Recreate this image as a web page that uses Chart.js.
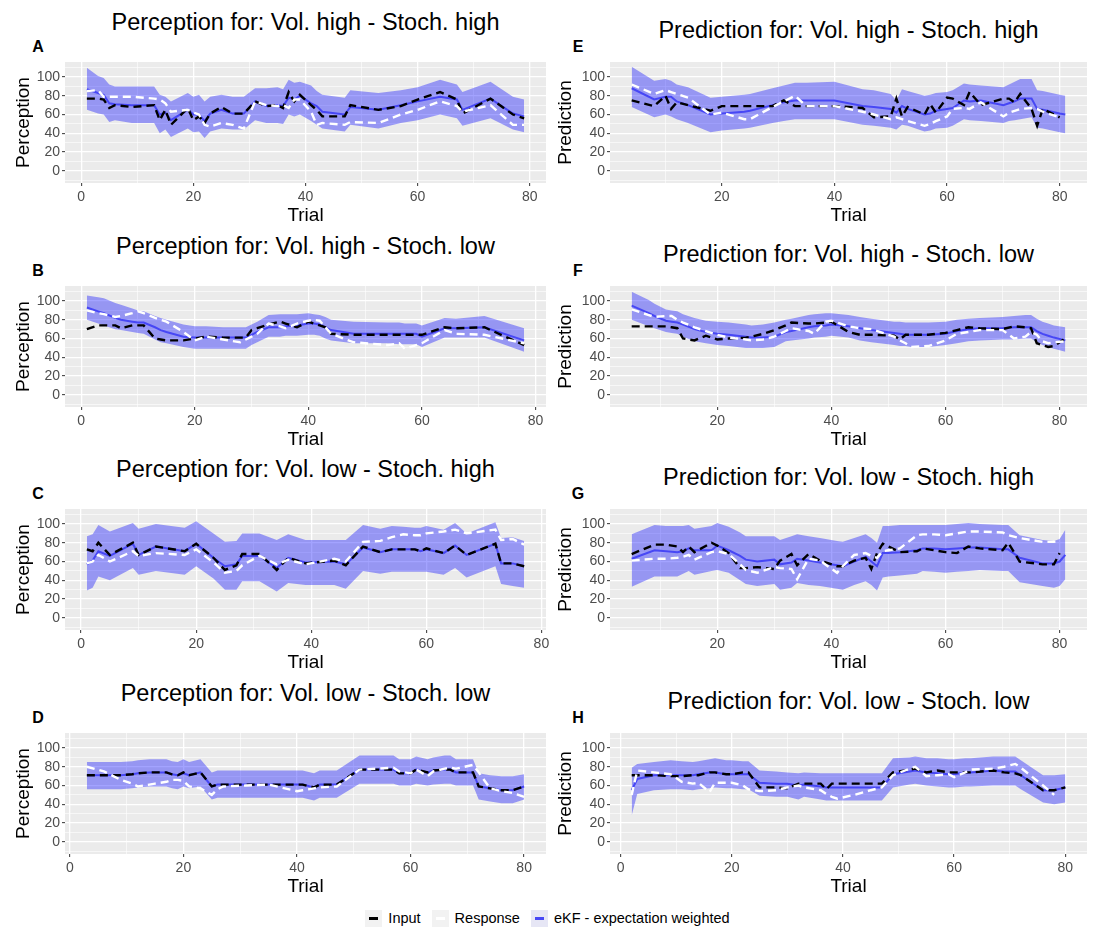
<!DOCTYPE html>
<html>
<head>
    <meta charset="utf-8">
    <title>eKF - perception and prediction</title>
    <script src="https://cdn.jsdelivr.net/npm/chart.js@4.4.1/dist/chart.umd.min.js"></script>
    <style>
        body { margin: 0; background: #fff; font-family: "Liberation Sans", Arial, sans-serif; }
        #figure { position: relative; width: 1094px; height: 931px; overflow: hidden; }
        .ptitle { position: absolute; font-size: 23.5px; color: #000; white-space: nowrap; transform: translate(-50%, -50%); }
        .tag { position: absolute; font-size: 16px; font-weight: bold; color: #000; transform: translate(-50%, -50%); }
        .plot { position: absolute; }
        #legend { position: absolute; left: 0; width: 1106px; top: 909px; height: 18px; display: flex; justify-content: center; align-items: center; font-size: 14.5px; color: #000; }
        #legend .key { width: 17px; height: 17px; background: #f2f2f2; position: relative; margin-right: 6px; }
        #legend .key i { position: absolute; left: 4px; top: 7px; width: 9px; height: 3px; }
        #legend .item { display: flex; align-items: center; margin-right: 11px; }
    </style>
</head>
<body>
<div id="figure">
    <div id="legend">
        <div class="item"><div class="key"><i style="background:#000"></i></div>Input</div>
        <div class="item"><div class="key"><i style="background:#fff"></i></div>Response</div>
        <div class="item"><div class="key" style="background:#e6e6f5"><i style="background:#4747f5"></i></div>eKF - expectation weighted</div>
    </div>
</div>
<script>
// Perception, Vol. high - Stoch. high
var trialsA = [1,3,4,5,6,9,13,14,15,16,19,20,21,22,23,25,27,29,31,33,35,36,37,38,39,41,42,43,47,48,53,57,60,64,67,68,73,77,79];
var inputA = [77,77,76,67,70,68,70,54,65,49,67,54,58,51,61,68,61,61,74,69,70,67,84,74,81,70,65,58,58,70,65,69,76,84,76,61,77,60,56];
var responseA = [85,86,79,79,79,79,77,76,72,63,65,62,60,49,47,51,49,45,74,70,69,70,67,76,76,63,49,51,49,52,51,60,65,74,69,63,70,49,49];
var ekfA = [87,83,81,72,71,70,70,60,62,54,65,60,60,53,61,65,61,61,74,69,70,69,78,76,80,72,69,63,60,68,65,70,74,79,76,65,77,61,58];
var upperA = [110,101,99,92,90,90,90,81,79,74,83,79,81,74,79,81,79,79,88,88,89,87,97,94,95,91,85,81,78,86,83,86,89,97,92,84,95,79,76];
var lowerA = [65,61,60,52,54,51,51,40,44,36,45,41,42,35,42,45,44,44,54,51,51,50,60,58,60,53,49,45,42,49,45,51,54,60,56,48,56,44,41];

// Perception, Vol. high - Stoch. low
var trialsB = [1,3,4,6,7,9,10,11,13,14,15,18,20,22,25,28,29,30,31,33,35,36,38,40,41,42,43,44,48,54,56,57,59,60,64,66,71,78];
var inputB = [70,74,74,74,71,74,74,74,60,59,58,58,60,62,61,61,61,69,71,75,78,76,72,78,76,74,72,65,64,64,64,64,64,64,72,71,72,53];
var responseB = [90,87,86,83,84,87,89,87,82,80,78,67,58,62,59,56,59,62,65,76,73,71,76,79,80,79,72,65,56,53,55,49,53,55,69,65,64,55];
var ekfB = [93,89,87,82,80,78,77,77,72,69,67,62,61,61,61,61,61,64,67,72,72,73,74,76,76,75,72,69,65,65,65,65,65,62,71,71,72,58];
var upperB = [106,104,103,98,96,92,90,89,84,82,80,75,73,73,72,72,72,75,78,85,86,86,86,87,86,85,83,80,78,77,77,76,76,74,82,81,84,71];
var lowerB = [80,76,74,70,69,67,66,65,59,56,55,51,49,49,49,49,49,53,56,62,62,63,63,64,64,63,60,58,55,55,54,54,54,51,61,61,61,46];

// Perception, Vol. low - Stoch. high
var trialsC = [1,2,3,5,9,10,13,18,20,23,25,27,28,31,34,36,39,44,46,49,52,54,56,58,59,60,63,65,67,72,73,75,77];
var inputC = [73,71,80,67,80,67,76,71,79,64,51,56,68,68,51,64,58,61,56,76,70,73,73,73,71,74,69,77,67,79,58,58,55];
var responseC = [58,60,67,60,71,66,69,67,73,59,48,50,56,66,57,62,57,63,60,81,82,86,89,88,88,90,92,94,90,94,83,84,78];
var ekfC = [57,61,71,66,79,67,76,71,79,64,55,57,66,66,53,64,59,60,57,75,70,73,73,73,71,73,69,77,67,79,58,58,55];
var upperC = [87,89,99,92,101,95,100,96,103,90,81,82,90,90,83,89,83,83,83,99,95,98,97,96,96,98,94,101,90,102,85,86,82];
var lowerC = [29,32,44,40,53,46,50,46,55,42,30,30,39,39,28,37,35,35,31,50,47,49,49,49,49,49,46,53,43,55,36,34,32];

// Perception, Vol. low - Stoch. low
var trialsD = [3,6,9,11,12,14,15,17,18,19,20,21,23,25,26,27,31,35,40,41,43,44,47,51,57,58,60,61,63,64,66,67,68,71,72,74,76,78,80];
var inputD = [71,71,71,72,73,74,74,74,72,71,74,71,74,59,61,61,61,61,61,61,58,61,61,77,77,73,73,77,74,76,77,77,74,74,59,57,55,55,59];
var responseD = [80,75,66,62,59,61,62,64,66,66,65,59,57,50,56,59,60,61,54,55,57,58,59,77,79,75,73,77,70,75,78,79,78,82,74,57,54,52,48];
var ekfD = [71,71,71,72,73,74,74,74,72,71,73,71,74,59,61,61,61,61,61,61,58,61,61,77,77,73,73,77,74,76,77,77,74,74,59,57,55,55,59];
var upperD = [85,85,85,86,87,88,88,88,86,85,88,85,88,74,76,76,76,76,76,76,73,76,76,92,92,88,88,91,88,90,92,92,88,88,73,71,70,70,72];
var lowerD = [56,56,56,57,58,59,59,59,57,56,59,57,59,45,47,47,47,47,47,47,44,47,47,62,62,60,60,62,60,61,62,62,60,60,45,43,41,41,45];

// Prediction, Vol. high - Stoch. high
var trialsE = [4,8,10,11,12,14,18,20,24,25,29,31,33,35,40,45,47,50,51,52,53,56,57,58,60,61,63,64,66,70,71,72,73,75,76,77,80,81];
var inputE = [75,69,80,66,73,70,64,69,69,69,69,75,69,69,69,67,57,58,77,58,68,60,71,62,78,77,70,84,70,77,77,73,82,66,48,66,57,null];
var responseE = [92,82,86,84,82,78,60,62,55,55,68,74,80,69,69,63,60,55,57,55,53,48,50,53,58,66,67,66,73,58,62,64,66,67,66,63,57,null];
var ekfE = [88,76,79,79,74,70,60,61,63,64,70,73,75,75,75,69,68,66,62,69,66,60,61,64,66,67,75,74,75,70,72,74,77,77,66,65,61,60];
var upperE = [111,96,98,96,92,89,78,79,81,82,88,91,94,94,95,87,86,82,75,87,85,80,81,83,84,86,93,92,91,89,92,95,98,98,86,85,81,80];
var lowerE = [68,57,60,58,55,51,41,43,45,46,51,53,55,55,55,49,48,46,44,49,48,42,43,45,46,48,55,54,53,51,53,54,55,57,46,45,41,40];

// Prediction, Vol. high - Stoch. low
var trialsF = [5,8,9,11,12,13,14,16,18,20,22,25,26,28,30,32,33,36,37,39,40,43,45,47,51,52,53,54,57,60,62,64,66,70,72,74,75,76,77,78,79,81];
var inputF = [73,73,73,73,72,71,60,58,63,59,60,61,62,65,69,74,77,76,76,77,78,67,64,64,63,59,64,64,64,66,69,72,71,70,73,72,71,55,53,51,52,60];
var responseF = [91,85,83,84,84,80,77,72,68,64,61,59,58,59,62,68,71,68,65,78,79,73,71,70,62,58,55,51,52,58,65,67,69,69,60,62,67,64,57,55,56,57];
var ekfF = [95,87,84,79,78,77,75,70,67,65,64,62,61,61,62,67,68,72,73,74,75,73,71,69,66,65,64,64,64,65,68,70,71,71,72,72,72,68,65,63,61,58];
var upperF = [110,101,97,91,90,89,86,82,79,78,77,75,74,75,77,80,81,85,86,87,87,85,83,81,78,78,77,77,77,78,80,81,82,83,84,85,85,81,78,76,74,72];
var lowerF = [80,73,71,67,66,65,62,57,55,53,52,50,50,50,51,57,58,60,61,62,63,61,58,56,53,52,52,51,51,53,55,57,58,59,59,60,60,56,53,51,49,46];

// Prediction, Vol. low - Stoch. high
var trialsG = [5,9,11,13,14,15,16,19,20,22,24,25,27,30,31,33,34,36,38,41,42,44,46,47,48,49,50,52,55,56,58,60,62,64,66,70,71,73,77,79,80,81];
var inputG = [68,78,78,76,70,76,70,80,77,69,53,53,54,52,61,68,56,68,61,55,55,61,64,52,69,79,76,70,71,74,72,70,69,76,74,72,80,60,57,57,69,null];
var responseG = [61,63,63,64,65,67,62,70,71,68,57,51,48,54,53,52,41,63,61,48,55,67,69,66,64,71,72,74,88,89,89,88,90,92,92,91,88,85,81,81,82,null];
var ekfG = [63,72,71,70,71,74,72,72,77,72,66,62,60,62,57,59,63,61,59,56,55,60,65,60,55,69,69,70,72,74,74,73,74,75,75,73,73,64,58,58,60,67];
var upperG = [89,99,98,98,98,99,95,98,101,97,91,87,87,87,83,87,89,87,85,82,81,85,89,85,80,98,98,99,99,99,99,99,100,101,100,99,99,88,83,82,84,94];
var lowerG = [33,44,44,44,47,50,46,50,51,48,40,36,34,36,30,32,37,35,34,31,30,35,39,35,29,43,44,45,47,50,49,48,49,50,51,50,50,38,34,32,34,41];

// Prediction, Vol. low - Stoch. low
var trialsH = [2,3,6,9,11,13,14,16,17,19,20,22,23,25,28,30,32,33,36,37,38,39,42,45,47,49,52,53,55,57,59,60,62,63,67,69,71,72,76,78,80];
var inputH = [71,71,71,70,70,71,71,74,74,72,72,74,74,58,58,57,62,62,62,56,62,62,62,62,62,74,77,78,74,76,74,74,74,74,76,74,73,71,55,55,58];
var responseH = [50,76,74,72,64,62,63,53,63,63,63,60,56,54,55,58,60,58,55,51,48,46,50,55,58,71,78,80,70,71,72,69,74,77,78,80,83,79,60,50,null];
var ekfH = [55,67,71,71,71,71,72,74,74,72,72,72,72,63,62,62,60,61,59,58,58,58,58,58,58,72,75,76,74,73,72,72,74,74,76,75,75,71,55,55,58];
var upperH = [79,83,85,87,86,85,86,88,89,87,87,86,86,76,75,74,73,74,73,73,73,73,73,73,73,89,90,91,89,89,88,88,89,89,91,91,91,87,71,71,72];
var lowerH = [28,51,55,56,56,55,56,57,58,57,57,56,56,49,48,48,45,48,45,44,44,44,44,44,44,58,61,62,60,59,58,58,59,59,60,60,60,56,42,40,42];

var yTickLabels = [0, 20, 40, 60, 80, 100];
var xTickLabels = [0, 20, 40, 60, 80];

var panels = [
    { tag: 'A', col: 0, row: 0, axis: 'Perception', title: 'Perception for: Vol. high - Stoch. high', trials: trialsA, input: inputA, response: responseA, ekf: ekfA, upper: upperA, lower: lowerA },
    { tag: 'B', col: 0, row: 1, axis: 'Perception', title: 'Perception for: Vol. high - Stoch. low', trials: trialsB, input: inputB, response: responseB, ekf: ekfB, upper: upperB, lower: lowerB },
    { tag: 'C', col: 0, row: 2, axis: 'Perception', title: 'Perception for: Vol. low - Stoch. high', trials: trialsC, input: inputC, response: responseC, ekf: ekfC, upper: upperC, lower: lowerC },
    { tag: 'D', col: 0, row: 3, axis: 'Perception', title: 'Perception for: Vol. low - Stoch. low', trials: trialsD, input: inputD, response: responseD, ekf: ekfD, upper: upperD, lower: lowerD },
    { tag: 'E', col: 1, row: 0, axis: 'Prediction', title: 'Prediction for: Vol. high - Stoch. high', trials: trialsE, input: inputE, response: responseE, ekf: ekfE, upper: upperE, lower: lowerE },
    { tag: 'F', col: 1, row: 1, axis: 'Prediction', title: 'Prediction for: Vol. high - Stoch. low', trials: trialsF, input: inputF, response: responseF, ekf: ekfF, upper: upperF, lower: lowerF },
    { tag: 'G', col: 1, row: 2, axis: 'Prediction', title: 'Prediction for: Vol. low - Stoch. high', trials: trialsG, input: inputG, response: responseG, ekf: ekfG, upper: upperG, lower: lowerG },
    { tag: 'H', col: 1, row: 3, axis: 'Prediction', title: 'Prediction for: Vol. low - Stoch. low', trials: trialsH, input: inputH, response: responseH, ekf: ekfH, upper: upperH, lower: lowerH }
];

// column geometry: canvas box, y axis width, right gap, title and tag offsets
var columns = [
    { left: 0, width: 550, yAxisWidth: 65, padRight: 4, titleX: 305.5, titleDy: 22, tagX: 38, yTitlePad: 12 },
    { left: 547, width: 547, yAxisWidth: 63, padRight: 7, titleX: 848.5, titleDy: 30, tagX: 578, yTitlePad: 7 }
];
var rowTops = [0, 224, 447, 671];

// grey ggplot-style panel behind the grid
var panelBackground = {
    id: 'panelBackground',
    beforeDraw: function(chart) {
        var a = chart.chartArea;
        var ctx = chart.ctx;
        ctx.save();
        ctx.fillStyle = '#ebebeb';
        ctx.fillRect(a.left, a.top, a.right - a.left, a.bottom - a.top);
        ctx.restore();
    }
};

function isMajor(v, list) { return list.indexOf(v) !== -1; }

function toPoints(trials, vals) {
    return trials.map(function(t, i) { return { x: t, y: vals[i] }; });
}

var figure = document.getElementById('figure');

panels.forEach(function(p) {
    var col = columns[p.col];
    var top = rowTops[p.row];

    var title = document.createElement('div');
    title.className = 'ptitle';
    title.style.left = col.titleX + 'px';
    title.style.top = (top + col.titleDy) + 'px';
    title.textContent = p.title;
    figure.appendChild(title);

    var tag = document.createElement('div');
    tag.className = 'tag';
    tag.style.left = col.tagX + 'px';
    tag.style.top = (top + 47) + 'px';
    tag.textContent = p.tag;
    figure.appendChild(tag);

    var canvas = document.createElement('canvas');
    canvas.className = 'plot';
    canvas.width = col.width;
    canvas.height = 170;
    canvas.style.left = col.left + 'px';
    canvas.style.top = (top + 55) + 'px';
    figure.appendChild(canvas);

    var first = p.trials[0], last = p.trials[p.trials.length - 1];
    var pad = (last - first) * 0.05;

    new Chart(canvas, {
        type: 'line',
        data: {
            datasets: [
                { label: 'Response', data: toPoints(p.trials, p.response), borderColor: '#ffffff', borderWidth: 2.4, borderDash: [8, 5], fill: false, order: 0 },
                { label: 'Input', data: toPoints(p.trials, p.input), borderColor: '#000000', borderWidth: 2.4, borderDash: [8, 5], fill: false, order: 1 },
                { label: 'eKF - expectation weighted', data: toPoints(p.trials, p.ekf), borderColor: '#4747f5', borderWidth: 2, fill: false, order: 2 },
                { label: 'upper', data: toPoints(p.trials, p.upper), borderWidth: 0, borderColor: 'rgba(0,0,0,0)', backgroundColor: 'rgba(0,0,255,0.36)', fill: '+1', order: 3 },
                { label: 'lower', data: toPoints(p.trials, p.lower), borderWidth: 0, borderColor: 'rgba(0,0,0,0)', fill: false, order: 4 }
            ]
        },
        options: {
            responsive: false,
            animation: false,
            events: [],
            layout: { padding: { top: 7, right: col.padRight, left: 0, bottom: 0 } },
            elements: { point: { radius: 0 }, line: { tension: 0 } },
            plugins: {
                legend: { display: false },
                tooltip: { enabled: false },
                filler: { drawTime: 'beforeDatasetsDraw' }
            },
            scales: {
                x: {
                    type: 'linear',
                    min: first - pad,
                    max: last + pad,
                    border: { display: false },
                    grid: {
                        color: '#ffffff',
                        lineWidth: function(c) { return c.tick && c.tick.value % 20 === 0 ? 1.3 : 0.6; },
                        tickColor: function(c) { return c.tick && isMajor(c.tick.value, xTickLabels) ? '#333333' : 'rgba(0,0,0,0)'; },
                        tickLength: 3,
                        tickWidth: 1
                    },
                    ticks: {
                        stepSize: 10,
                        includeBounds: false,
                        autoSkip: false,
                        maxRotation: 0,
                        padding: 3,
                        color: '#4d4d4d',
                        font: { family: 'Liberation Sans', size: 14 },
                        callback: function(v) { return isMajor(v, xTickLabels) ? String(v) : ''; }
                    },
                    title: {
                        display: true,
                        text: 'Trial',
                        color: '#000',
                        font: { family: 'Liberation Sans', size: 19, lineHeight: 1 },
                        padding: { top: 0, bottom: 0 }
                    },
                    afterFit: function(s) { s.height = 42; s.paddingLeft = 0; s.paddingRight = 0; }
                },
                y: {
                    min: -13,
                    max: 116,
                    border: { display: false },
                    grid: {
                        color: '#ffffff',
                        lineWidth: function(c) { return c.tick && c.tick.value % 20 === 0 ? 1.3 : 0.6; },
                        tickColor: function(c) { return c.tick && isMajor(c.tick.value, yTickLabels) ? '#333333' : 'rgba(0,0,0,0)'; },
                        tickLength: 3,
                        tickWidth: 1
                    },
                    ticks: {
                        stepSize: 10,
                        includeBounds: false,
                        autoSkip: false,
                        padding: 2,
                        color: '#4d4d4d',
                        font: { family: 'Liberation Sans', size: 14 },
                        callback: function(v) { return isMajor(v, yTickLabels) ? String(v) : ''; }
                    },
                    title: {
                        display: true,
                        text: p.axis,
                        color: '#000',
                        font: { family: 'Liberation Sans', size: 19 },
                        padding: { top: col.yTitlePad, bottom: 0 }
                    },
                    afterFit: function(s) { s.width = col.yAxisWidth; s.paddingTop = 0; s.paddingBottom = 0; }
                }
            }
        },
        plugins: [panelBackground]
    });
});
</script>
</body>
</html>
